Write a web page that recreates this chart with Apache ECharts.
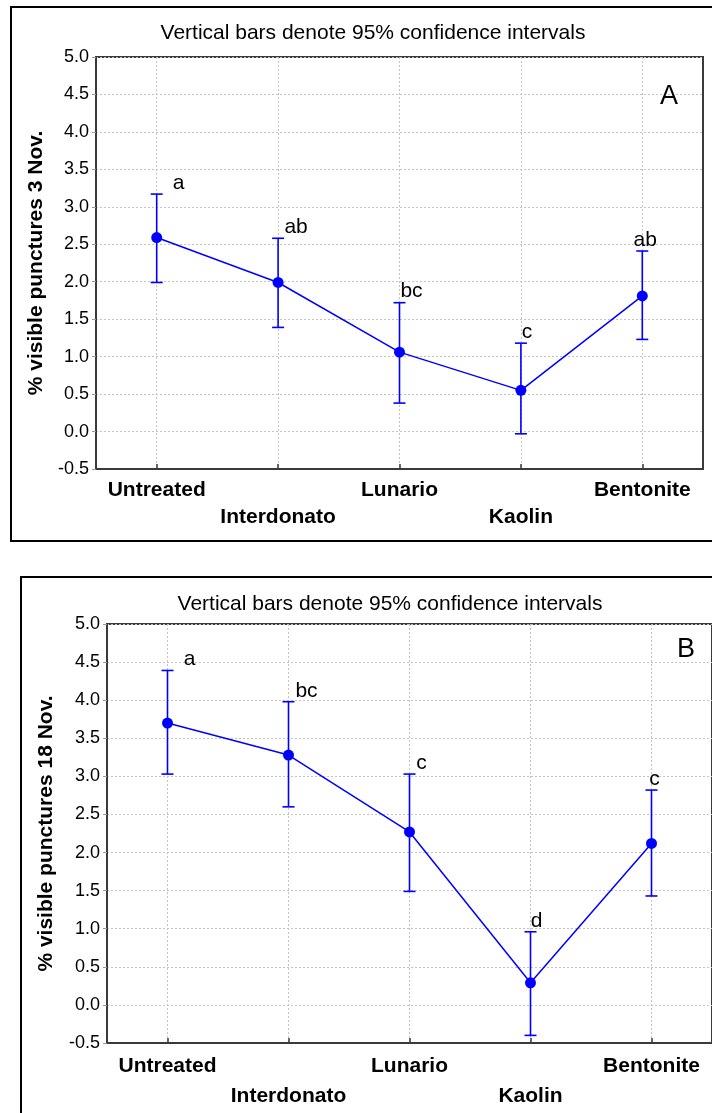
<!DOCTYPE html>
<html>
<head>
<meta charset="utf-8">
<script src="https://cdn.jsdelivr.net/npm/echarts@6/dist/echarts.min.js"></script>
<style>
  html, body { margin: 0; padding: 0; background: #fff; }
  #chart { width: 712px; height: 1113px; }
</style>
</head>
<body>
<div id="chart"></div>
<script>
// Treatments on the x axis
const categories = ['Untreated', 'Interdonato', 'Lunario', 'Kaolin', 'Bentonite'];

// % visible punctures, 3 Nov.: means and 95% confidence limits
const meanNov3 = [2.59, 1.99, 1.06, 0.55, 1.81];
const lowNov3 = [1.99, 1.39, 0.38, -0.03, 1.23];
const highNov3 = [3.17, 2.58, 1.72, 1.18, 2.41];
const lettersNov3 = ['a', 'ab', 'bc', 'c', 'ab'];

// % visible punctures, 18 Nov.
const meanNov18 = [3.70, 3.28, 2.27, 0.29, 2.12];
const lowNov18 = [3.03, 2.60, 1.49, -0.40, 1.43];
const highNov18 = [4.39, 3.98, 3.03, 0.96, 2.82];
const lettersNov18 = ['a', 'bc', 'c', 'd', 'c'];

// Value axis range and step
const yMin = -0.5;
const yMax = 5.0;
const yStep = 0.5;

const BLUE = '#0000ff';
const FONT = "'Liberation Sans', Arial, Helvetica, sans-serif";
const AXIS_COLOR = '#3a3a3a';
// horizontal shift of the significance letters, per category
const letterDx = [22, 18, 12, 6, 3];

const panels = [
  {
    grid: { left: 96, top: 57, width: 607, height: 412 },
    title: { text: 'Vertical bars denote 95% confidence intervals', left: 368, top: 18 },
    yName: '% visible punctures 3 Nov.', nameGap: 47, rowGap: 27,
    mean: meanNov3, low: lowNov3, high: highNov3, letters: lettersNov3,
    tag: 'A', tagPos: [669, 97],
    frame: { x: 11, y: 7, width: 740, height: 534 }
  },
  {
    grid: { left: 107, top: 624, width: 616, height: 419 },
    title: { text: 'Vertical bars denote 95% confidence intervals', left: 385, top: 589 },
    yName: '% visible punctures 18 Nov.', nameGap: 50, rowGap: 30,
    mean: meanNov18, low: lowNov18, high: highNov18, letters: lettersNov18,
    tag: 'B', tagPos: [686, 650],
    frame: { x: 21, y: 577, width: 740, height: 580 }
  }
];

const option = {
  animation: false,
  backgroundColor: '#ffffff',
  title: [],
  grid: [],
  xAxis: [],
  yAxis: [],
  series: [],
  graphic: []
};

panels.forEach(function (p, k) {
  option.title.push({
    text: p.title.text,
    left: p.title.left,
    top: p.title.top,
    textAlign: 'center',
    textStyle: { fontFamily: FONT, fontSize: 21, fontWeight: 'normal', color: '#000' }
  });

  option.grid.push(Object.assign({
    show: true, borderColor: AXIS_COLOR, borderWidth: 2, backgroundColor: 'transparent'
  }, p.grid));

  option.xAxis.push({
    type: 'category',
    gridIndex: k,
    data: categories,
    boundaryGap: true,
    axisLine: { show: true, onZero: false, lineStyle: { color: AXIS_COLOR, width: 2 } },
    axisTick: { show: true, alignWithLabel: true, inside: true, length: 5, lineStyle: { color: AXIS_COLOR, width: 1.5 } },
    splitLine: { show: true, alignWithLabel: true, lineStyle: { color: '#c4c4c4', type: [2, 2], width: 1 } },
    axisLabel: {
      interval: 0,
      margin: 8,
      color: '#000',
      fontFamily: FONT,
      fontSize: 21,
      fontWeight: 'bold',
      lineHeight: p.rowGap,
      formatter: function (value, index) {
        return index % 2 === 1 ? '\n' + value : value;
      }
    }
  });

  option.yAxis.push({
    type: 'value',
    gridIndex: k,
    min: yMin,
    max: yMax,
    interval: yStep,
    name: p.yName,
    nameLocation: 'middle',
    nameRotate: 90,
    nameGap: p.nameGap,
    nameTextStyle: { fontFamily: FONT, fontSize: 21, fontWeight: 'bold', color: '#000' },
    axisLine: { show: true, lineStyle: { color: AXIS_COLOR, width: 2 } },
    axisTick: { show: true, length: 4, lineStyle: { color: '#9a9a9a', width: 1 } },
    splitLine: { show: true, lineStyle: { color: '#c4c4c4', type: [2, 2], width: 1 } },
    axisLabel: {
      margin: 7,
      color: '#000',
      fontFamily: FONT,
      fontSize: 18,
      formatter: function (v) { return v.toFixed(1); }
    }
  });

  const bars = categories.map(function (c, i) { return [i, p.low[i], p.high[i]]; });
  const letters = p.letters;

  // confidence interval whiskers with their significance letters
  option.series.push({
    type: 'custom',
    xAxisIndex: k,
    yAxisIndex: k,
    z: 3,
    encode: { x: 0, y: [1, 2] },
    data: bars,
    renderItem: function (params, api) {
      const i = api.value(0);
      const lo = api.coord([i, api.value(1)]);
      const hi = api.coord([i, api.value(2)]);
      const half = 6;
      const st = { stroke: BLUE, lineWidth: 1.6 };
      return {
        type: 'group',
        children: [
          { type: 'line', shape: { x1: hi[0], y1: hi[1], x2: lo[0], y2: lo[1] }, style: st },
          { type: 'line', shape: { x1: hi[0] - half, y1: hi[1], x2: hi[0] + half, y2: hi[1] }, style: st },
          { type: 'line', shape: { x1: lo[0] - half, y1: lo[1], x2: lo[0] + half, y2: lo[1] }, style: st },
          {
            type: 'text',
            x: hi[0] + letterDx[i],
            y: hi[1] - 11,
            style: {
              text: letters[i], fill: '#000', fontFamily: FONT, fontSize: 21,
              align: 'center', verticalAlign: 'middle'
            }
          }
        ]
      };
    }
  });

  // treatment means
  option.series.push({
    type: 'line',
    xAxisIndex: k,
    yAxisIndex: k,
    z: 4,
    data: p.mean,
    symbol: 'circle',
    symbolSize: 11,
    itemStyle: { color: BLUE },
    lineStyle: { color: BLUE, width: 1.5 }
  });

  option.graphic.push({
    type: 'rect',
    shape: p.frame,
    style: { fill: 'none', stroke: '#000', lineWidth: 2 },
    silent: true,
    z: 10
  });
  option.graphic.push({
    type: 'text',
    x: p.tagPos[0],
    y: p.tagPos[1],
    style: {
      text: p.tag, fill: '#000', fontFamily: FONT, fontSize: 27,
      align: 'center', verticalAlign: 'middle'
    },
    z: 10
  });
});

const chart = echarts.init(document.getElementById('chart'), null, { renderer: 'canvas' });
chart.setOption(option);
</script>
</body>
</html>
